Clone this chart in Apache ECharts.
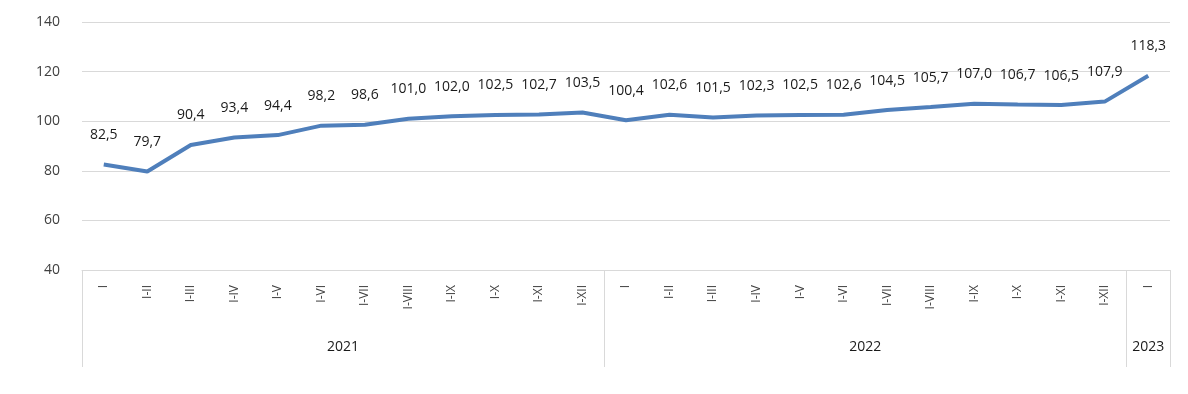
<!DOCTYPE html>
<html>
<head>
<meta charset="utf-8">
<script src="https://cdn.jsdelivr.net/npm/echarts@6/dist/echarts.min.js"></script>
<style>
html,body{margin:0;padding:0;background:#fff;}
#c{width:1188px;height:394px;}
</style>
</head>
<body>
<div id="c"></div>
<script>
var categories = ['I','I-II','I-III','I-IV','I-V','I-VI','I-VII','I-VIII','I-IX','I-X','I-XI','I-XII',
                  'I','I-II','I-III','I-IV','I-V','I-VI','I-VII','I-VIII','I-IX','I-X','I-XI','I-XII',
                  'I'];
var values = [82.5,79.7,90.4,93.4,94.4,98.2,98.6,101.0,102.0,102.5,102.7,103.5,
              100.4,102.6,101.5,102.3,102.5,102.6,104.5,105.7,107.0,106.7,106.5,107.9,
              118.3];
var years = ['2021','2022','2023'];
var yearStarts = [0,12,24];
var yearEnds = [12,24,25];

var yearCenters = yearStarts.map(function(s,i){return (s+yearEnds[i])/2;});
var boundaries = yearStarts.concat([yearEnds[yearEnds.length-1]]);
var FONT = 'Open Sans';

var chart = echarts.init(document.getElementById('c'));
chart.setOption({
  animation:false,
  grid:{left:82,right:18,top:22,bottom:124,containLabel:false},
  xAxis:[{
    type:'category',
    data:categories,
    position:'bottom',
    axisLine:{show:true,lineStyle:{color:'#d9d9d9',width:1}},
    axisTick:{show:false},
    axisLabel:{rotate:90,margin:15,fontSize:12,color:'#404040',fontFamily:FONT,interval:0}
  },{
    type:'value',
    min:0,max:categories.length,
    position:'bottom',
    offset:0,
    axisLine:{show:false},
    splitLine:{show:false},
    axisTick:{show:true,customValues:boundaries,length:97,lineStyle:{color:'#d9d9d9',width:1}},
    axisLabel:{show:true,customValues:yearCenters,margin:70,fontSize:14,color:'#1a1a1a',fontFamily:FONT,
      formatter:function(v){var i=yearCenters.indexOf(v);return i>=0?years[i]:'';}}
  }],
  yAxis:{
    type:'value',min:40,max:140,interval:20,
    axisLine:{show:false},axisTick:{show:false},
    axisLabel:{fontSize:14,color:'#404040',margin:22,fontFamily:FONT},
    splitLine:{lineStyle:{color:'#d9d9d9',width:1}}
  },
  series:[{
    type:'line',
    data:values,
    xAxisIndex:0,
    symbol:'circle',
    symbolSize:1,
    showSymbol:true,
    itemStyle:{color:'#4f7fbb',opacity:0},
    lineStyle:{color:'#4f7fbb',width:4},
    label:{show:true,position:'top',distance:22,fontSize:14,color:'#1a1a1a',fontFamily:FONT,opacity:1,
      formatter:function(p){return p.value.toFixed(1).replace('.',',');}},
    labelLayout:{hideOverlap:false}
  }]
});
</script>
</body>
</html>
